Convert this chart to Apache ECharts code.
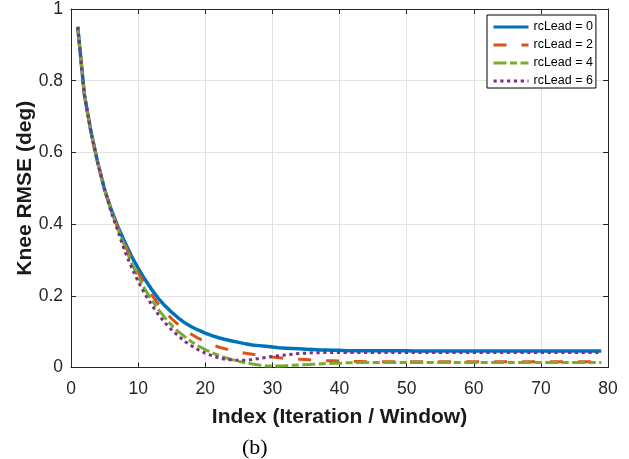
<!DOCTYPE html>
<html>
<head>
<meta charset="utf-8">
<script src="https://cdn.jsdelivr.net/npm/echarts/dist/echarts.min.js"></script>
<style>
  html, body { margin: 0; padding: 0; background: #fff; }
  #chart { width: 629px; height: 459px; }
</style>
</head>
<body>
<div id="chart"></div>
<script>
// Iteration / window index
const index = [
  1, 2, 3, 4, 5, 6, 7, 8, 9, 10, 11, 12, 13, 14, 15, 16, 17, 18, 19, 20,
  21, 22, 23, 24, 25, 26, 27, 28, 29, 30, 31, 32, 33, 34, 35, 36, 37, 38, 39, 40,
  41, 42, 43, 44, 45, 46, 47, 48, 49, 50, 51, 52, 53, 54, 55, 56, 57, 58, 59, 60,
  61, 62, 63, 64, 65, 66, 67, 68, 69, 70, 71, 72, 73, 74, 75, 76, 77, 78, 79
];

// Knee RMSE (deg) for each rcLead setting
const rmseLead0 = [
  0.950, 0.760, 0.655, 0.570, 0.497, 0.440, 0.392, 0.350, 0.311, 0.277,
  0.246, 0.218, 0.193, 0.172, 0.154, 0.138, 0.124, 0.113, 0.104, 0.096,
  0.089, 0.083, 0.078, 0.074, 0.070, 0.066, 0.063, 0.061, 0.059, 0.057,
  0.055, 0.054, 0.053, 0.052, 0.051, 0.050, 0.049, 0.049, 0.048, 0.048,
  0.047, 0.047, 0.047, 0.047, 0.047, 0.047, 0.047, 0.047, 0.047, 0.047,
  0.046, 0.046, 0.046, 0.046, 0.046, 0.046, 0.046, 0.046, 0.046, 0.046,
  0.046, 0.046, 0.046, 0.046, 0.046, 0.046, 0.046, 0.046, 0.046, 0.046,
  0.046, 0.046, 0.046, 0.046, 0.046, 0.046, 0.046, 0.046, 0.046
];

const rmseLead2 = [
  0.950, 0.760, 0.655, 0.570, 0.497, 0.438, 0.389, 0.344, 0.302, 0.265,
  0.232, 0.203, 0.177, 0.155, 0.136, 0.119, 0.105, 0.092, 0.081, 0.072,
  0.064, 0.057, 0.052, 0.047, 0.043, 0.040, 0.037, 0.034, 0.032, 0.029,
  0.027, 0.025, 0.024, 0.023, 0.022, 0.021, 0.020, 0.019, 0.019, 0.018,
  0.018, 0.017, 0.017, 0.016, 0.016, 0.016, 0.016, 0.016, 0.016, 0.016,
  0.016, 0.016, 0.016, 0.016, 0.016, 0.016, 0.016, 0.016, 0.016, 0.016,
  0.016, 0.016, 0.016, 0.016, 0.016, 0.016, 0.016, 0.016, 0.016, 0.016,
  0.016, 0.016, 0.016, 0.016, 0.016, 0.016, 0.016, 0.016, 0.016
];

const rmseLead4 = [
  0.950, 0.760, 0.655, 0.570, 0.497, 0.436, 0.386, 0.338, 0.293, 0.254,
  0.219, 0.189, 0.162, 0.139, 0.118, 0.100, 0.085, 0.071, 0.060, 0.050,
  0.041, 0.034, 0.027, 0.022, 0.017, 0.013, 0.010, 0.007, 0.005, 0.004,
  0.004, 0.005, 0.006, 0.007, 0.008, 0.009, 0.010, 0.011, 0.012, 0.012,
  0.013, 0.013, 0.014, 0.014, 0.014, 0.014, 0.014, 0.014, 0.014, 0.014,
  0.014, 0.014, 0.014, 0.014, 0.014, 0.014, 0.014, 0.014, 0.014, 0.014,
  0.014, 0.014, 0.014, 0.014, 0.014, 0.014, 0.014, 0.014, 0.014, 0.014,
  0.014, 0.014, 0.014, 0.014, 0.014, 0.014, 0.014, 0.014, 0.014
];

const rmseLead6 = [
  0.950, 0.760, 0.655, 0.570, 0.497, 0.432, 0.380, 0.325, 0.280, 0.240,
  0.205, 0.175, 0.148, 0.125, 0.105, 0.088, 0.072, 0.060, 0.049, 0.040,
  0.033, 0.027, 0.023, 0.021, 0.020, 0.020, 0.022, 0.025, 0.028, 0.031,
  0.033, 0.035, 0.037, 0.039, 0.040, 0.041, 0.041, 0.042, 0.042, 0.042,
  0.042, 0.042, 0.042, 0.042, 0.042, 0.042, 0.042, 0.042, 0.042, 0.042,
  0.042, 0.042, 0.042, 0.042, 0.042, 0.042, 0.042, 0.042, 0.042, 0.042,
  0.042, 0.042, 0.042, 0.042, 0.042, 0.042, 0.042, 0.042, 0.042, 0.042,
  0.042, 0.042, 0.042, 0.042, 0.042, 0.042, 0.042, 0.042, 0.042
];

const seriesNames = ['rcLead = 0', 'rcLead = 2', 'rcLead = 4', 'rcLead = 6'];
const xTicks = { min: 0, max: 80, interval: 10 };
const yTicks = { min: 0, max: 1, interval: 0.2 };

const pairs = vals => index.map((x, i) => [x, vals[i]]);

const axisColor = '#262626';
const gridColor = '#e3e3e3';
const sans = 'Liberation Sans, Arial, Helvetica, sans-serif';

const chart = echarts.init(document.getElementById('chart'), null, { renderer: 'canvas' });

function lineSeries(name, vals, color, width, dash, z) {
  return {
    name: name,
    type: 'line',
    data: pairs(vals),
    symbol: 'none',
    showSymbol: false,
    smooth: false,
    z: z,
    lineStyle: { color: color, width: width, type: dash, cap: 'butt' },
    itemStyle: { color: color },
    emphasis: { disabled: true },
    animation: false
  };
}

// Unlabelled top/right axes that close the plot box
function boxAxis(position) {
  return {
    type: 'value',
    position: position,
    axisLine: { show: true, onZero: false, lineStyle: { color: axisColor, width: 1 } },
    axisTick: { show: true, inside: true, length: 5, lineStyle: { color: axisColor } },
    axisLabel: { show: false },
    splitLine: { show: false }
  };
}

chart.setOption({
  backgroundColor: '#fff',
  animation: false,
  grid: { left: 71, right: 21, top: 7, bottom: 91.5, containLabel: false },
  xAxis: [
    {
      type: 'value', min: xTicks.min, max: xTicks.max, interval: xTicks.interval,
      position: 'bottom',
      name: 'Index (Iteration / Window)',
      nameLocation: 'middle', nameGap: 39, nameMoveOverlap: false,
      nameTextStyle: { fontFamily: sans, fontWeight: 'bold', fontSize: 21, color: '#1a1a1a' },
      axisLine: { show: true, onZero: false, lineStyle: { color: axisColor, width: 1 } },
      axisTick: { show: true, inside: true, length: 5, lineStyle: { color: axisColor } },
      axisLabel: { margin: 13, fontFamily: sans, fontSize: 17.5, color: axisColor },
      splitLine: { show: true, lineStyle: { color: gridColor, width: 1 } }
    },
    Object.assign(boxAxis('top'), { min: xTicks.min, max: xTicks.max, interval: xTicks.interval })
  ],
  yAxis: [
    {
      type: 'value', min: yTicks.min, max: yTicks.max, interval: yTicks.interval,
      position: 'left',
      name: 'Knee RMSE (deg)',
      nameLocation: 'middle', nameGap: 35, nameMoveOverlap: false,
      nameTextStyle: { fontFamily: sans, fontWeight: 'bold', fontSize: 21, color: '#1a1a1a' },
      axisLine: { show: true, onZero: false, lineStyle: { color: axisColor, width: 1 } },
      axisTick: { show: true, inside: true, length: 5, lineStyle: { color: axisColor } },
      axisLabel: { margin: 8, fontFamily: sans, fontSize: 17.5, color: axisColor },
      splitLine: { show: true, lineStyle: { color: gridColor, width: 1 } }
    },
    Object.assign(boxAxis('right'), { min: yTicks.min, max: yTicks.max, interval: yTicks.interval })
  ],
  legend: {
    orient: 'vertical',
    left: 487, top: 15,
    padding: [5.5, 3, 0.5, 5],
    itemWidth: 35, itemHeight: 13, itemGap: 5,
    backgroundColor: '#fff',
    borderColor: '#000', borderWidth: 1,
    textStyle: { fontFamily: sans, fontSize: 12.5, color: '#000' },
    lineStyle: { width: 3 },
    itemStyle: { opacity: 0, color: 'rgba(0,0,0,0)', borderWidth: 0 },
    data: seriesNames
  },
  series: [
    lineSeries(seriesNames[0], rmseLead0, '#0072BD', 3.5, 'solid', 2),
    lineSeries(seriesNames[1], rmseLead2, '#D95319', 3, [13, 15], 3),
    lineSeries(seriesNames[2], rmseLead4, '#77AC30', 3, [13, 3.5, 7, 3.5], 4),
    lineSeries(seriesNames[3], rmseLead6, '#7E2F8E', 3, [3.2, 3.6], 5)
  ],
  graphic: [
    {
      type: 'text', left: 242, top: 437,
      style: { text: '(b)', font: '22px "Liberation Serif", "Times New Roman", serif', fill: '#000' }
    }
  ]
});
</script>
</body>
</html>
